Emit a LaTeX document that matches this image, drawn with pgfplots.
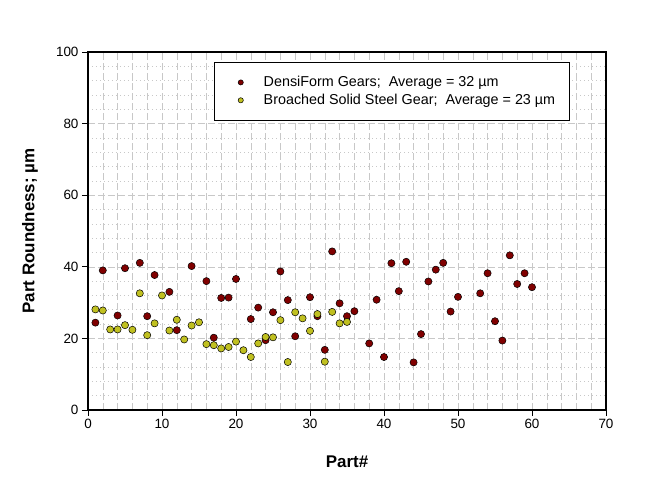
\documentclass[border=0pt]{standalone}
\usepackage{fontspec}
\setmainfont{Liberation Sans}
\usepackage{pgfplots}
\pgfplotsset{compat=1.18}
\definecolor{densi}{RGB}{128,0,0}
\definecolor{broach}{RGB}{192,192,32}
\definecolor{gridgray}{RGB}{200,200,200}

\pgfplotsset{
    dotlegend/.style={
        legend image code/.code={%
            \path (0bp,0bp) (28bp,0bp);
            \draw[mark size=2.6bp, ##1] plot coordinates {(14bp,0bp)};}},
}

\pgfplotstableread{
x y
1 24.4
2 39.0
4 26.4
5 39.6
7 41.1
8 26.2
9 37.7
11 33.0
12 22.3
14 40.2
16 36.0
17 20.2
18 31.3
19 31.4
20 36.6
22 25.4
23 28.6
24 19.5
25 27.3
26 38.7
27 30.7
28 20.6
30 31.5
31 26.2
32 16.8
33 44.3
34 29.8
35 26.2
36 27.6
38 18.6
39 30.8
40 14.8
41 41.0
42 33.2
43 41.4
44 13.3
45 21.2
46 35.9
47 39.2
48 41.1
49 27.5
50 31.6
53 32.6
54 38.2
55 24.8
56 19.4
57 43.2
58 35.2
59 38.2
60 34.3
}\densiform

\pgfplotstableread{
x y
1 28.1
2 27.8
3 22.5
4 22.5
5 23.7
6 22.4
7 32.6
8 20.9
9 24.2
10 32.0
11 22.2
12 25.2
13 19.7
14 23.6
15 24.5
16 18.4
17 18.1
18 17.2
19 17.6
20 19.1
21 16.7
22 14.8
23 18.6
24 20.4
25 20.3
26 25.1
27 13.4
28 27.3
29 25.6
30 22.1
31 26.8
32 13.5
33 27.4
34 24.2
35 24.6
}\broached

\begin{document}
\begin{tikzpicture}
\begin{axis}[
    name=ax,
    scale only axis,
    width=518bp, height=358bp,
    xmin=0, xmax=70, ymin=0, ymax=100,
    xtick={0,10,...,70}, ytick={0,20,...,100},
    minor x tick num=4, minor y tick num=4,
    tick align=outside, tick pos=left,
    major tick length=6bp, minor tick length=0pt,
    tick style={black, line width=0.9pt},
    axis line style={black, line width=1.1pt},
    grid=both,
    major grid style={gridgray, dash pattern=on 7bp off 3bp, line width=0.6pt},
    minor x grid style={gridgray, dash pattern=on 7bp off 3bp, line width=0.5pt},
    minor y grid style={gridgray, dash pattern=on 1bp off 3bp, line width=0.6pt},
    ticklabel style={font=\fontsize{13.5}{16}\selectfont},
    /pgf/number format/assume math mode=true,
    xlabel={\textbf{Part\#}},
    ylabel={\textbf{Part Roundness; µm}},
    label style={font=\fontsize{17}{20}\selectfont},
    xlabel style={at={(axis description cs:0.5,0)}, anchor=center, yshift=-52bp},
    ylabel style={at={(axis description cs:0,0.5)}, anchor=center, rotate=0, yshift=58bp},
    legend style={at={(axis description cs:0.243,0.972)}, anchor=north west,
        draw=black, line width=0.9pt, fill=white,
        font=\fontsize{14.4}{17}\selectfont,
        inner xsep=12bp, inner ysep=12bp, row sep=2bp,
        /tikz/every odd column/.append style={column sep=6.5bp}},
    legend cell align=left,
]
\addplot[only marks, mark=*, mark size=3.6bp, mark options={fill=densi, draw=black, line width=0.5pt}, dotlegend]
    table[x=x, y=y] {\densiform};
\addlegendentry{DensiForm Gears;\ \ Average = 32 µm}
\addplot[only marks, mark=*, mark size=3.6bp, mark options={fill=broach, draw=black, line width=0.5pt}, dotlegend]
    table[x=x, y=y] {\broached};
\addlegendentry{Broached Solid Steel Gear;\ \ Average = 23 µm}
\end{axis}
\path (ax.south west) ++(-88bp,-92bp) rectangle ++(670bp,502bp);
\end{tikzpicture}
\end{document}
